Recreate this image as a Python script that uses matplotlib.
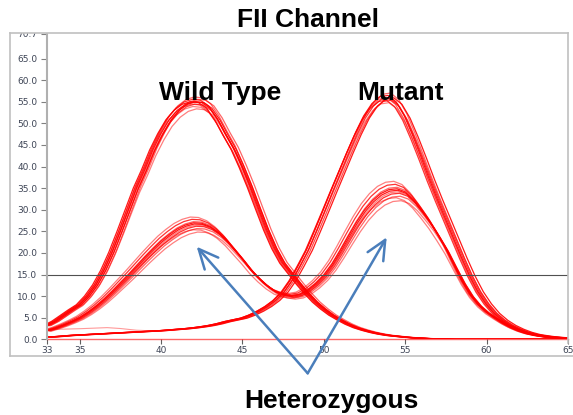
import numpy as np
import matplotlib
matplotlib.use('Agg')
import matplotlib.pyplot as plt
from matplotlib.lines import Line2D
from matplotlib.patches import Rectangle, FancyArrowPatch

# temperature grid of the melt curves (0.5 degree steps)
temps = np.arange(33.0, 65.01, 0.5)

# homozygous wild type, mean trace
wt_curve = [3.2, 4.2, 5.5, 6.8, 8.0, 10.0, 12.6, 16.0, 20.2, 25.0, 30.0, 35.0, 39.2,
            43.8, 47.6, 50.8, 53.0, 54.4, 55.0, 54.8, 53.5, 50.8, 47.3, 44.0, 39.8,
            35.2, 30.2, 25.3, 21.0, 17.6, 15.2, 12.8, 10.6, 8.6, 7.0, 5.6, 4.5, 3.5,
            2.7, 2.1, 1.6, 1.2, 0.9, 0.7, 0.5, 0.35, 0.25, 0.15, 0.1, 0.05,
            0, 0, 0, 0, 0, 0, 0, 0, 0, 0, 0, 0, 0, 0, 0]

# homozygous mutant, mean trace
mut_curve = [0.5, 0.6, 0.75, 0.9, 1.0, 1.1, 1.2, 1.3, 1.4, 1.5, 1.6, 1.7, 1.8, 1.9,
             2.0, 2.15, 2.3, 2.45, 2.65, 2.9, 3.2, 3.6, 4.1, 4.5, 4.9, 5.6, 6.5, 7.6,
             9.0, 10.9, 13.6, 17.0, 20.6, 25.0, 29.5, 34.1, 38.6, 43.1, 47.4, 51.2,
             54.0, 55.6, 55.9, 54.4, 51.2, 46.8, 42.0, 37.0, 32.3, 27.8, 23.3, 18.8,
             14.6, 11.0, 8.2, 6.0, 4.4, 3.2, 2.3, 1.6, 1.1, 0.8, 0.55, 0.4, 0.3]

# heterozygous, mean trace
het_curve = [2.0, 2.6, 3.3, 4.1, 5.0, 6.2, 7.6, 9.2, 11.0, 12.9, 14.8, 16.8, 18.8,
             20.7, 22.5, 24.0, 25.3, 26.2, 26.7, 26.6, 25.9, 24.6, 22.8, 20.6, 18.4,
             16.0, 14.0, 12.3, 11.0, 10.3, 10.0, 10.3, 11.3, 12.8, 14.7, 17.2, 20.3,
             23.6, 26.8, 29.6, 31.8, 33.4, 34.3, 34.5, 33.8, 32.0, 29.6, 27.0, 24.0,
             20.8, 17.0, 13.3, 10.2, 7.9, 6.2, 4.9, 3.7, 2.7, 1.9, 1.3, 0.9, 0.6,
             0.4, 0.3, 0.2]

# replicate spread: temperature offset, height factor, line opacity
wt_shift = [-0.2, -0.12, -0.08, -0.04, 0.0, 0.04, 0.08, 0.12, 0.18, 0.25]
wt_scale = [1.0, 0.99, 1.01, 0.98, 1.0, 1.02, 0.99, 1.0, 0.97, 1.01]
wt_alpha = [0.9, 0.6, 0.8, 0.5, 0.9, 0.6, 0.7, 0.9, 0.5, 0.6]

mut_shift = [-0.15, -0.1, -0.05, 0.0, 0.05, 0.1, 0.15, 0.3]
mut_scale = [0.99, 1.0, 1.01, 0.98, 1.0, 1.02, 0.99, 1.0]
mut_alpha = [0.8, 0.6, 0.9, 0.5, 0.8, 0.6, 0.7, 0.9]

het_shift = [-0.2, -0.1, 0.0, 0.05, 0.1, 0.15, 0.2, -0.05, 0.25, 0.0]
het_scale = [1.06, 1.04, 1.02, 1.0, 0.99, 0.98, 0.96, 0.95, 0.93, 1.01]
het_alpha = [0.5, 0.8, 0.6, 0.9, 0.5, 0.8, 0.6, 0.5, 0.5, 0.9]

# odd low trace at the start and the flat blank
odd_x = [33, 34, 35, 36, 36.7, 37.5, 38.5, 39.5]
odd_y = [2.3, 2.35, 2.45, 2.6, 2.7, 2.5, 2.1, 1.95]
blank = [0.0] * len(temps)

threshold = 15.0
y_ticks = [0, 5, 10, 15, 20, 25, 30, 35, 40, 45, 50, 55, 60, 65, 70.7]
x_ticks = [33, 35, 40, 45, 50, 55, 60, 65]

W, H = 573, 415


def fx(px):
    return px / W


def fy(py):
    return 1 - py / H


fig = plt.figure(figsize=(5.73, 4.15), dpi=100)
ax = fig.add_axes([fx(47), fy(339.3), fx(568) - fx(47), fy(33.9) - fy(339.3)])

red = '#ff0000'
for s, k, a in zip(wt_shift, wt_scale, wt_alpha):
    ax.plot(temps + s, np.array(wt_curve) * k, color=red, lw=0.9, alpha=a)
for s, k, a in zip(mut_shift, mut_scale, mut_alpha):
    ax.plot(temps + s, np.array(mut_curve) * k, color=red, lw=0.9, alpha=a)
for s, k, a in zip(het_shift, het_scale, het_alpha):
    ax.plot(temps + s, np.array(het_curve) * k, color=red, lw=0.9, alpha=a)
ax.plot(odd_x, odd_y, color=red, lw=0.8, alpha=0.4)
ax.plot(temps, blank, color=red, lw=1.0, alpha=0.6, clip_on=False)

ax.axhline(threshold, color='#505050', lw=0.8)

ax.set_xlim(33, 65)
ax.set_ylim(0, 70.7)
ax.set_yticks(y_ticks)
ax.set_yticklabels(['%.1f' % v for v in y_ticks])
ax.set_xticks(x_ticks)
ax.set_xticklabels([str(v) for v in x_ticks])
ax.tick_params(axis='y', direction='out', length=4.5, width=0.8, color='#808080',
               labelsize=6.5, labelcolor='#3d4455', pad=2.5)
ax.tick_params(axis='x', direction='out', length=3.5, width=0.8, color='#606060',
               labelsize=6.5, labelcolor='#3d4455', pad=1.5)
for lab in ax.get_xticklabels() + ax.get_yticklabels():
    lab.set_family('DejaVu Sans')

ax.spines['left'].set_color('#b0b0b0')
ax.spines['left'].set_linewidth(1.5)
for side in ['top', 'right', 'bottom']:
    ax.spines[side].set_visible(False)

# white strip above the frame hides the top half of the 70.7 label
fig.patches.append(Rectangle((0, fy(33)), 1, 1 - fy(33), transform=fig.transFigure,
                             facecolor='white', edgecolor='none', zorder=1))

frame = '#c0c0c0'
fig.add_artist(Line2D([fx(10), fx(568)], [fy(33), fy(33)], color=frame, lw=1.2, zorder=2))
fig.add_artist(Line2D([fx(10), fx(10)], [fy(33), fy(356)], color=frame, lw=1.2, zorder=2))
fig.add_artist(Line2D([fx(10), fx(573)], [fy(356), fy(356)], color=frame, lw=1.2, zorder=2))
fig.add_artist(Line2D([fx(568), fx(568)], [fy(33), fy(343)], color=frame, lw=1.2, zorder=2))

big = dict(fontsize=19, fontweight='bold', family='Liberation Sans', ha='center',
           va='baseline', zorder=3)
fig.text(fx(308), fy(27), 'FII Channel', **big)
fig.text(fx(220.5), fy(100), 'Wild Type', **big)
fig.text(fx(400.5), fy(100), 'Mutant', **big)
fig.text(fx(331.5), fy(408), 'Heterozygous', **big)

blue = '#4a7ebb'
tail = (fx(307.7), fy(373.3))
for head in [(fx(196.7), fy(246.7)), (fx(386.7), fy(237.3))]:
    fig.add_artist(FancyArrowPatch(tail, head, arrowstyle='->,head_length=1.4,head_width=0.65',
                                   mutation_scale=10, color=blue, lw=1.8,
                                   shrinkA=0, shrinkB=0, transform=fig.transFigure,
                                   zorder=4))

fig.savefig('out.png', dpi=100)
